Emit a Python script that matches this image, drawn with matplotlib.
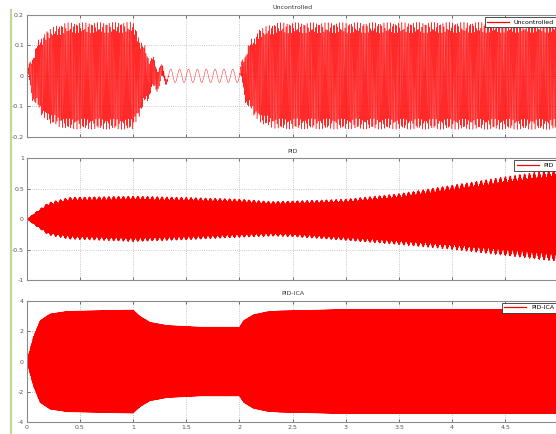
import numpy as np
import matplotlib.pyplot as plt
from matplotlib.lines import Line2D

# ----------------------------
# Envelope knots (time in s)
# ----------------------------
# Uncontrolled: large fast oscillation + small slow residual oscillation
unc_t = [0.0, 0.02, 0.06, 0.13, 0.22, 0.37, 1.0, 1.07, 1.16, 1.27, 1.35, 2.0, 2.07, 2.2, 2.35, 5.0]
unc_amp = [0.0, 0.02, 0.075, 0.125, 0.157, 0.175, 0.177, 0.118, 0.059, 0.02, 0.0, 0.0, 0.096, 0.157, 0.175, 0.177]
unc_small_amp = 0.022
unc_small_freq = 12.0
unc_freqs = [101.0, 137.0]

# PID: upper / lower envelope
pid_t = [0.0, 0.2, 0.4, 1.0, 1.5, 2.0, 2.3, 2.5, 3.0, 3.5, 4.0, 4.5, 5.0]
pid_upper = [0.0, 0.27, 0.36, 0.38, 0.36, 0.33, 0.29, 0.30, 0.33, 0.42, 0.56, 0.70, 0.83]
pid_lower = [0.0, -0.26, -0.33, -0.37, -0.34, -0.30, -0.28, -0.29, -0.35, -0.42, -0.50, -0.60, -0.70]
pid_freqs = [151.0, 173.0]

# PID-ICA: symmetric envelope
ica_t = [0.0, 0.063, 0.126, 0.22, 0.38, 1.0, 1.07, 1.16, 1.32, 1.63, 2.0, 2.04, 2.13, 2.26, 2.38, 2.6, 3.0, 5.0]
ica_amp = [0.0, 1.61, 2.69, 3.13, 3.30, 3.39, 2.95, 2.58, 2.37, 2.26, 2.26, 2.69, 3.07, 3.27, 3.33, 3.36, 3.43, 3.43]
ica_freq = 157.0

titles = ["Uncontrolled", "PID", "PID-ICA"]
ylims = [0.2, 1.0, 4.0]
yticks = [[-0.2, -0.1, 0, 0.1, 0.2], [-1, -0.5, 0, 0.5, 1], [-4, -2, 0, 2, 4]]
xticks = [0, 0.5, 1, 1.5, 2, 2.5, 3, 3.5, 4, 4.5, 5]

# ----------------------------
# Build signals
# ----------------------------
t = np.linspace(0, 5, 150001)

a = np.interp(t, unc_t, unc_amp)
a_max = max(unc_amp)
y_unc = a * (0.9 * np.sin(2 * np.pi * unc_freqs[0] * t)
             + 0.1 * np.sin(2 * np.pi * unc_freqs[1] * t))
y_unc += unc_small_amp * (1 - a / a_max) * np.sin(2 * np.pi * unc_small_freq * t)

up = np.interp(t, pid_t, pid_upper)
lo = np.interp(t, pid_t, pid_lower)
carrier = 0.92 * np.sin(2 * np.pi * pid_freqs[0] * t) + 0.08 * np.sin(2 * np.pi * pid_freqs[1] * t)
y_pid = (up + lo) / 2 + (up - lo) / 2 * carrier

y_ica = np.interp(t, ica_t, ica_amp) * np.sin(2 * np.pi * ica_freq * t)

signals = [y_unc, y_pid, y_ica]
widths = [0.3, 0.5, 0.5]

# ----------------------------
# Plot
# ----------------------------
fig = plt.figure(figsize=(5.56, 4.34), dpi=100)

W, H = 556.0, 434.0
left = 26.7 / W
width = (558.5 - 26.7) / W
tops = [15.0, 158.3, 300.7]
ph = 121.7

for i in range(3):
    ax = fig.add_axes([left, 1 - (tops[i] + ph) / H, width, ph / H])
    ax.plot(t, signals[i], color="red", lw=widths[i])
    ax.set_xlim(0, 5)
    ax.set_ylim(-ylims[i], ylims[i])
    ax.set_xticks(xticks)
    ax.set_yticks(yticks[i])
    ax.set_yticklabels([f"{v:g}" for v in yticks[i]])
    if i == 2:
        # last label (5) lies beyond the cropped right edge
        ax.set_xticklabels([f"{v:g}" for v in xticks[:-1]] + [""])
    else:
        ax.set_xticklabels([])
    ax.grid(True, linestyle=":", color="#b5b5b5", lw=0.6)
    ax.tick_params(direction="in", length=2.5, width=0.6, labelsize=4.5,
                   colors="#555555", top=True, right=True, pad=2)
    for s in ax.spines.values():
        s.set_color("#8a8a8a")
        s.set_linewidth(0.8)
    ax.set_title(titles[i], fontsize=4.5, pad=4, color="#333333")
    handle = Line2D([], [], color="red", lw=0.9)
    leg = ax.legend([handle], [titles[i]], loc="upper right", fontsize=4.5,
                    fancybox=False, edgecolor="#333333", framealpha=1,
                    borderaxespad=0.3, handlelength=3.5, borderpad=0.4)
    leg.get_frame().set_linewidth(0.6)

# Green margin line from the source page
fig.add_artist(Line2D([11 / W, 11 / W], [0, 1 - 10 / H], color="#c3d69b", lw=1.6))

fig.savefig("out.png", dpi=100)
